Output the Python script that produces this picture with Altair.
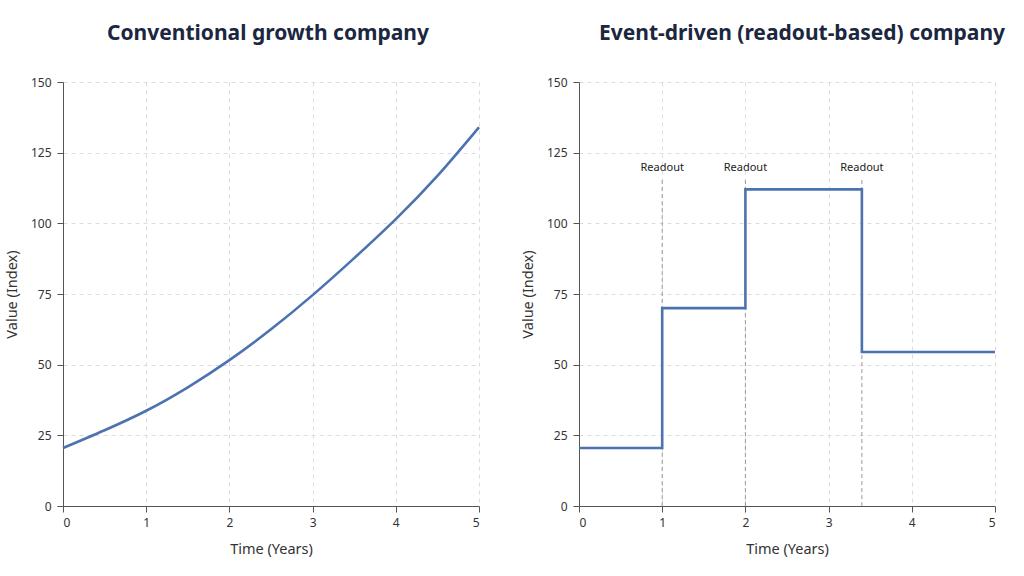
import altair as alt
import pandas as pd

# Left panel: conventional growth
growth_years = [0, 0.5, 1, 1.5, 2, 2.5, 3, 3.5, 4, 4.5, 5]
growth_values = [20.5, 26.8, 33.7, 42.0, 51.6, 62.5, 74.6, 87.7, 101.5, 116.8, 134.0]

# Right panel: event-driven step values
step_years = [0, 1, 2, 3.4, 5]
step_values = [20.5, 70.0, 112.0, 54.5, 54.5]

# Readout markers
readout_years = [1, 2, 3.4]
readout_labels = ["Readout", "Readout", "Readout"]
readout_line_top = 116
readout_label_y = 119.5

FONT = "Noto Sans"
LINE_COLOR = "#4C72B0"
TITLE_COLOR = "#1b2740"

growth_df = pd.DataFrame({"t": growth_years, "v": growth_values})
step_df = pd.DataFrame({"t": step_years, "v": step_values})
readout_df = pd.DataFrame({
    "t": readout_years,
    "label": readout_labels,
    "y0": [0] * len(readout_years),
    "y1": [readout_line_top] * len(readout_years),
    "ly": [readout_label_y] * len(readout_years),
})

W, H = 416, 424

x_scale = alt.Scale(domain=[0, 5], nice=False, zero=False)
y_scale = alt.Scale(domain=[0, 150], nice=False)

x_axis = alt.Axis(title="Time (Years)", values=[0, 1, 2, 3, 4, 5], format="d",
                  labelPadding=5, titlePadding=14)
y_axis = alt.Axis(title="Value (Index)", values=[0, 25, 50, 75, 100, 125, 150],
                  labelPadding=6, titlePadding=11)

def title(text, dx=0):
    return alt.TitleParams(text=text, fontSize=21, font=FONT, fontWeight="bold",
                           color=TITLE_COLOR, anchor="middle", offset=32, dx=dx)

left = alt.Chart(growth_df).mark_line(
    color=LINE_COLOR, strokeWidth=2.6, interpolate="natural"
).encode(
    x=alt.X("t:Q", scale=x_scale, axis=x_axis),
    y=alt.Y("v:Q", scale=y_scale, axis=y_axis),
).properties(width=W, height=H, title=title("Conventional growth company", dx=-3))

step_line = alt.Chart(step_df).mark_line(
    color=LINE_COLOR, strokeWidth=2.6, interpolate="step-after"
).encode(
    x=alt.X("t:Q", scale=x_scale, axis=x_axis),
    y=alt.Y("v:Q", scale=y_scale, axis=y_axis),
)

readout_rules = alt.Chart(readout_df).mark_rule(
    color="#9a9a9a", strokeDash=[4, 3], strokeWidth=1
).encode(
    x="t:Q",
    y="y0:Q",
    y2="y1:Q",
)

readout_text = alt.Chart(readout_df).mark_text(
    font=FONT, fontSize=11, color="#222222", baseline="middle", align="center"
).encode(
    x="t:Q",
    y="ly:Q",
    text="label:N",
)

right = alt.layer(readout_rules, step_line, readout_text).properties(
    width=W, height=H, title=title("Event-driven (readout-based) company", dx=15)
)

chart = alt.hconcat(left, right, spacing=35).properties(
    padding={"left": 4, "top": 23, "right": 5, "bottom": 5},
    background="white",
).configure_view(
    stroke=None
).configure_axis(
    labelFont=FONT, titleFont=FONT, labelFontSize=12, titleFontSize=14.5,
    labelColor="#333333", titleColor="#333333", titleFontWeight="normal",
    domainColor="#555555", tickColor="#555555", tickSize=6,
    grid=True, gridColor="#dcdcdc", gridDash=[4, 4], gridWidth=1,
)

chart.save("out.html", embed_options={"renderer": "svg", "actions": False})
